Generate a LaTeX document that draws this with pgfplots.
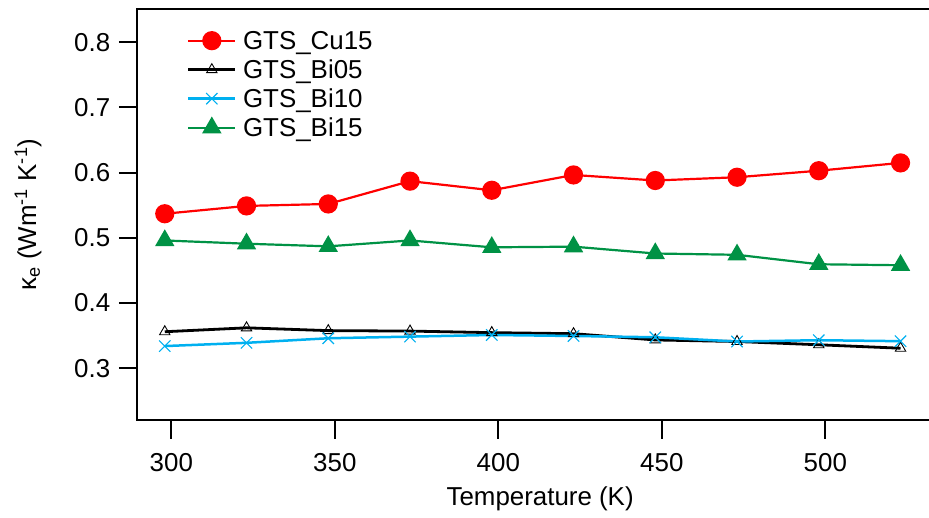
\documentclass[border=0pt]{standalone}
\usepackage{fontspec}
\setmainfont{Liberation Sans}
\usepackage{pgfplots}
\pgfplotsset{compat=1.18}
\definecolor{cred}{RGB}{255,0,0}
\definecolor{cgreen}{RGB}{0,146,69}
\definecolor{cblue}{RGB}{0,176,240}
\begin{document}
\fontsize{26}{31}\selectfont
\begin{tikzpicture}
\begin{axis}[
  scale only axis, width=794.1bp, height=410.7bp,
  xmin=289.66, xmax=532.5, ymin=0.2206, ymax=0.8506,
  axis line style={line width=2bp},
  tick pos=left, tick align=outside,
  major tick length=18.5bp,
  every tick/.style={line width=2bp, black},
  xtick={300,350,...,500}, ytick={0.3,0.4,...,0.8},
  /pgf/number format/assume math mode=true,
  yticklabel style={/pgf/number format/.cd, fixed, fixed zerofill, precision=1},
  xticklabel style={yshift=-6bp, /pgf/number format/.cd, fixed, precision=0},
  xlabel={Temperature (K)},
  ylabel={κ\textsubscript{e} (Wm\textsuperscript{-1} K\textsuperscript{-1})},
  every axis x label/.style={at={(axis description cs:0.507,0)}, anchor=base, yshift=-85.3bp},
  every axis y label/.style={at={(axis description cs:-0.1378,0.5)}, anchor=center, rotate=90},
  legend style={draw=none, fill=none, inner sep=0pt, row sep=10.5bp,
    at={(axis description cs:0.062,0.9466)}, anchor=north west,
    nodes={inner ysep=0pt, inner xsep=6.35bp, text height=18.5bp, text depth=0pt}},
  legend cell align=left,
  legend image code/.code={\draw[mark repeat=2, mark phase=2] plot coordinates {(0bp,0bp) (23.5bp,0bp) (47bp,0bp)};},
]
\addplot[cred, line width=2.2bp, mark=*, mark size=8.5bp, mark options={fill=cred, draw=cred}] coordinates {
(298,0.537) (323,0.549) (348,0.552) (373,0.587) (398,0.573) (423,0.5965) (448,0.588) (473,0.593) (498,0.603) (523,0.615)};
\addlegendentry{GTS\_Cu15}
\addplot[black, line width=2.8bp, mark=triangle, mark size=6bp, mark options={line width=0.9bp, fill=white, draw=black}] coordinates {
(298,0.356) (323,0.362) (348,0.3577) (373,0.357) (398,0.3546) (423,0.3530) (448,0.3434) (473,0.341) (498,0.336) (523,0.3307)};
\addlegendentry{GTS\_Bi05}
\addplot[cblue, line width=2.5bp, mark=x, mark size=8bp, mark options={line width=1.1bp}] coordinates {
(298,0.334) (323,0.339) (348,0.346) (373,0.3485) (398,0.351) (423,0.3495) (448,0.3475) (473,0.341) (498,0.343) (523,0.3415)};
\addlegendentry{GTS\_Bi10}
\addplot[cgreen, line width=2.2bp, mark=triangle*, mark size=9bp, mark options={fill=cgreen, draw=cgreen}] coordinates {
(298,0.496) (323,0.491) (348,0.487) (373,0.496) (398,0.4855) (423,0.4865) (448,0.476) (473,0.474) (498,0.4595) (523,0.4580)};
\addlegendentry{GTS\_Bi15}
\coordinate (ll) at (rel axis cs:0,0);
\coordinate (ul) at (rel axis cs:0,1);
\end{axis}
\pgfresetboundingbox
\path[use as bounding box] ([shift={(-137.5bp,-98bp)}]ll) rectangle ([shift={(791.5bp,9.3bp)}]ul);
\end{tikzpicture}
\end{document}
